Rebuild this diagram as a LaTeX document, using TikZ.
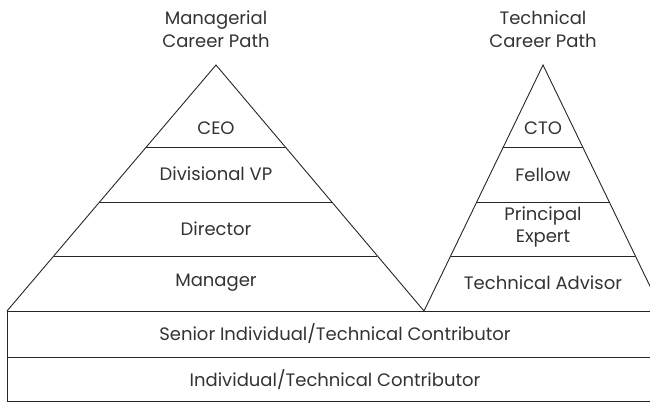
\documentclass[tikz,border=0pt]{standalone}
\usepackage{fontspec}
\setmainfont{Poppins}
\begin{document}
\begin{tikzpicture}[x=1pt,y=-1pt,
  outline/.style={draw=black!85,line width=0.9pt,line join=miter},
  tier/.style={draw=black!85,line width=0.9pt},
  lbl/.style={text=black!80,font=\fontsize{18}{22.5}\selectfont,align=center,inner sep=0pt}]
\useasboundingbox (0,0) rectangle (650,403);
\clip (0,0) rectangle (650,403);
% apices and base corners of the two pyramids
\coordinate (mtop) at (216,65);
\coordinate (ml) at (7,311);
\coordinate (v) at (424,311);
\coordinate (ttop) at (543,65);
\coordinate (tr) at (662,311);
% pyramids
\draw[outline] (ml) -- (mtop) -- (v) -- (ttop) -- (tr);
% tier dividers: half-widths scale with depth below each apex
\foreach \y in {147,202,256}{
  \pgfmathsetmacro{\f}{(\y-65)/246}
  \draw[tier] ({216-209*\f},\y) -- ({216+208*\f},\y);
  \draw[tier] ({543-119*\f},\y) -- ({543+119*\f},\y);
}
% base bands
\draw[outline] (663,311) -- (7,311) -- (7,401) -- (663,401);
\draw[tier] (7,357) -- (663,357);
% headings
\node[lbl] (mhead) at (216,29) {Managerial\\Career Path};
\node[lbl] (thead) at (543,29) {Technical\\Career Path};
% managerial tiers
\node[lbl] (ceo) at (216,128) {CEO};
\node[lbl] (dvp) at (216,174) {Divisional VP};
\node[lbl] (dir) at (216,229) {Director};
\node[lbl] (mgr) at (216,283) {Manager};
% technical tiers
\node[lbl] (cto) at (543,128) {CTO};
\node[lbl] (fel) at (543,175) {Fellow};
\node[lbl] (pex) at (543,227) {Principal\\Expert};
\node[lbl] (tad) at (543,283) {Technical Advisor};
% shared base
\node[lbl] (sitc) at (335,334) {Senior Individual/Technical Contributor};
\node[lbl] (itc) at (335,380) {Individual/Technical Contributor};
\end{tikzpicture}
\end{document}
